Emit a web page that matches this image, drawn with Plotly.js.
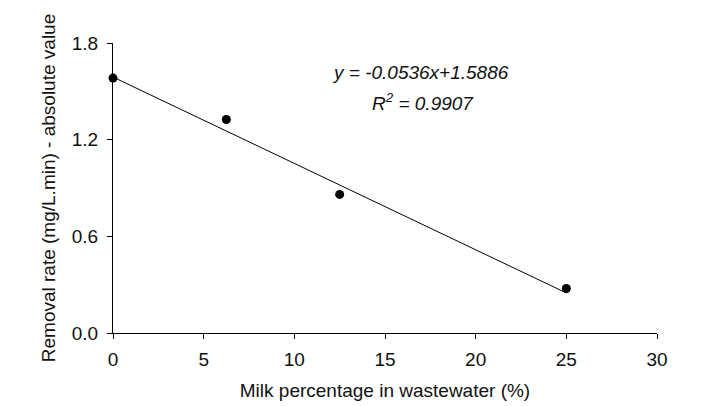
<!DOCTYPE html>
<html>
<head>
<meta charset="utf-8">
<script src="https://cdn.plot.ly/plotly-3.0.1.min.js"></script>
<style>
	html, body { margin: 0; padding: 0; background: #fff; }
	#chart { width: 702px; height: 406px; }
</style>
</head>
<body>
<div id="chart"></div>
<script>
// milk percentage (%) and measured removal rate (mg/L.min)
const milkPct = [0, 6.25, 12.5, 25];
const removalRate = [1.582, 1.325, 0.86, 0.276];

// linear trendline reported on the chart
const trendSlope = -0.0536;
const trendIntercept = 1.5886;
const trendR2 = 0.9907;

const xTicks = [0, 5, 10, 15, 20, 25, 30];
const yTicks = [0.0, 0.6, 1.2, 1.8];

const fontFamily = '"Liberation Sans", Arial, sans-serif';
const fontSize = 19;
const ink = '#111';

const xMin = Math.min(...milkPct);
const xMax = Math.max(...milkPct);
const trendX = [xMin, xMax];
const trendY = trendX.map(x => trendSlope * x + trendIntercept);

const trendTrace = {
	x: trendX, y: trendY,
	mode: 'lines',
	type: 'scatter',
	line: { color: '#000', width: 1 },
	hoverinfo: 'skip'
};
const pointTrace = {
	x: milkPct, y: removalRate,
	mode: 'markers',
	type: 'scatter',
	marker: { color: '#000', size: 9 },
	cliponaxis: false
};

const sign = trendIntercept >= 0 ? '+' : '-';
const eqText = '<i>y = ' + trendSlope.toFixed(4) + 'x' + sign + Math.abs(trendIntercept).toFixed(4) + '</i>';
const r2Text = '<i>R<sup>2</sup> = ' + trendR2.toFixed(4) + '</i>';

const textFont = { family: fontFamily, size: fontSize, color: ink };

const layout = {
	width: 702, height: 406,
	margin: { l: 113, r: 45, t: 43, b: 73, pad: 0 },
	paper_bgcolor: '#fff',
	plot_bgcolor: '#fff',
	showlegend: false,
	font: textFont,
	xaxis: {
		range: [0, 30],
		tickvals: xTicks,
		ticktext: xTicks.map(String),
		showgrid: false, zeroline: false,
		showline: true, linecolor: '#000', linewidth: 1,
		ticks: 'outside', ticklen: 5, tickwidth: 1, tickcolor: '#000',
		ticklabelstandoff: 4,
		tickfont: textFont,
		title: { text: 'Milk percentage in wastewater (%)', standoff: 14, font: textFont }
	},
	yaxis: {
		range: [0, 1.8],
		tickvals: yTicks,
		ticktext: yTicks.map(v => v.toFixed(1)),
		showgrid: false, zeroline: false,
		showline: true, linecolor: '#000', linewidth: 1,
		ticks: 'outside', ticklen: 5, tickwidth: 1, tickcolor: '#000',
		ticklabelstandoff: 5,
		tickfont: textFont,
		title: { text: 'Removal rate (mg/L.min) - absolute value', standoff: 11, font: textFont }
	},
	annotations: [
		{ x: 16.95, y: 1.615, xref: 'x', yref: 'y', text: eqText, showarrow: false,
		  xanchor: 'center', yanchor: 'middle', font: textFont },
		{ x: 17.1, y: 1.435, xref: 'x', yref: 'y', text: r2Text, showarrow: false,
		  xanchor: 'center', yanchor: 'middle', font: textFont }
	]
};

Plotly.newPlot('chart', [trendTrace, pointTrace], layout, { staticPlot: true, displayModeBar: false });
</script>
</body>
</html>
